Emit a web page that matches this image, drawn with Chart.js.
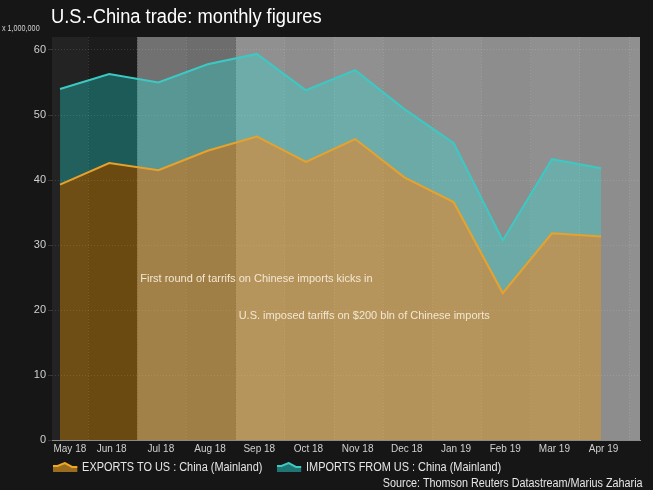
<!DOCTYPE html>
<html>
<head>
<meta charset="utf-8">
<script src="https://cdn.jsdelivr.net/npm/chart.js@4.4.0/dist/chart.umd.min.js"></script>
<style>
  html, body { margin: 0; padding: 0; background: #161616; }
  #wrap { position: relative; width: 653px; height: 490px; overflow: hidden; font-family: 'Liberation Sans', Arial, sans-serif; }
  #wrap canvas { position: absolute; left: 0; top: 0; }
  .title { position: absolute; left: 51px; top: 5px; color: #fff; font-size: 20px; white-space: nowrap; transform: scaleX(0.915); transform-origin: left center; }
  .unit { position: absolute; left: 2px; top: 23px; color: #d0d0d0; font-size: 9px; white-space: nowrap; transform: scaleX(0.8); transform-origin: left center; }
  .legend { position: absolute; left: 53px; top: 460px; color: #e6e6e6; font-size: 12px; display: flex; align-items: center; white-space: nowrap; transform: scaleX(0.91); transform-origin: left center; }
  .legend span { display: flex; align-items: center; margin-right: 16px; }
  .legend svg { margin-right: 5px; }
  .source { position: absolute; right: 10px; top: 476px; color: #e6e6e6; font-size: 12px; white-space: nowrap; transform: scaleX(0.9); transform-origin: right center; }
</style>
</head>
<body>
<div id="wrap">
  <canvas id="chart-trade" width="653" height="490"></canvas>
  <div class="title">U.S.-China trade: monthly figures</div>
  <div class="unit">x 1,000,000</div>
  <div class="legend">
    <span><svg width="27" height="10"><polygon points="0,10 0,4 5,4 13,1 21,5 27,5 27,10" fill="#9a6c1e"/><polyline points="0,4 5,4 13,1 21,5 27,5" fill="none" stroke="#f0a824" stroke-width="2"/></svg>EXPORTS TO US : China (Mainland)</span>
    <span><svg width="27" height="10"><polygon points="0,10 0,4 5,4 13,1 21,5 27,5 27,10" fill="#1f7573"/><polyline points="0,4 5,4 13,1 21,5 27,5" fill="none" stroke="#3cc9c4" stroke-width="2"/></svg>IMPORTS FROM US : China (Mainland)</span>
  </div>
  <div class="source">Source: Thomson Reuters Datastream/Marius Zaharia</div>
</div>
<script>
const months    = ['May 18','Jun 18','Jul 18','Aug 18','Sep 18','Oct 18','Nov 18','Dec 18','Jan 19','Feb 19','Mar 19','Apr 19'];
const exportsUS = [39.3, 42.6, 41.5, 44.5, 46.7, 42.8, 46.3, 40.4, 36.6, 22.6, 31.8, 31.3];
const importsUS = [14.7, 13.7, 13.5, 13.3, 12.7, 11.0, 10.6, 10.5, 9.1, 8.1, 11.4, 10.5];
const yTicks    = [0, 10, 20, 30, 40, 50, 60];

// shaded periods: start position (in month index units) and label
const bandStart  = [1.57, 3.57];
const bandColor  = ['#6d6d6d', '#8d8d8d'];
const bandText   = ['First round of tarrifs on Chinese imports kicks in', 'U.S. imposed tariffs on $200 bln of Chinese imports'];
const bandTextY  = [24.7, 19.1];

const X_MIN = -0.163, X_MAX = 11.79;
const gridX = months.map((m, i) => i + 0.57);

const bandsPlugin = {
  id: 'bands',
  beforeDraw(chart) {
    const { ctx, chartArea: a, scales: { x } } = chart;
    ctx.save();
    ctx.fillStyle = '#1c1c1c';
    ctx.fillRect(a.left, a.top, a.right - a.left, a.bottom - a.top);
    bandStart.forEach((s, i) => {
      const x0 = x.getPixelForValue(s);
      const x1 = i + 1 < bandStart.length ? x.getPixelForValue(bandStart[i + 1]) : a.right;
      ctx.fillStyle = bandColor[i];
      ctx.fillRect(x0, a.top, x1 - x0, a.bottom - a.top);
    });
    // faint alternating columns between grid lines
    const edges = [X_MIN, ...gridX.filter(g => g < X_MAX), X_MAX];
    ctx.fillStyle = 'rgba(255,255,255,0.03)';
    for (let i = 0; i < edges.length - 1; i += 2) {
      const x0 = x.getPixelForValue(edges[i]);
      const x1 = x.getPixelForValue(edges[i + 1]);
      ctx.fillRect(x0, a.top, x1 - x0, a.bottom - a.top);
    }
    ctx.restore();
  },
  afterDatasetsDraw(chart) {
    const { ctx, scales: { x, y } } = chart;
    ctx.save();
    ctx.font = '11px "Liberation Sans", Arial, sans-serif';
    ctx.fillStyle = '#f3e7d2';
    ctx.textBaseline = 'middle';
    bandText.forEach((t, i) => {
      ctx.fillText(t, x.getPixelForValue(bandStart[i]) + 3, y.getPixelForValue(bandTextY[i]));
    });
    ctx.restore();
  }
};

const tickFont = { family: "'Liberation Sans', Arial, sans-serif", size: 10 };

new Chart(document.getElementById('chart-trade'), {
  type: 'line',
  data: {
    datasets: [{
      label: 'EXPORTS TO US : China (Mainland)',
      data: exportsUS.map((v, i) => ({ x: i, y: v })),
      borderColor: '#e8a22c',
      backgroundColor: 'rgba(255,161,0,0.35)',
      borderWidth: 2,
      pointRadius: 0,
      tension: 0,
      fill: 'origin'
    }, {
      label: 'IMPORTS FROM US : China (Mainland)',
      data: importsUS.map((v, i) => ({ x: i, y: v })),
      borderColor: '#3cc9c4',
      backgroundColor: 'rgba(33,237,230,0.3)',
      borderWidth: 2,
      pointRadius: 0,
      tension: 0,
      fill: '-1'
    }]
  },
  options: {
    responsive: false,
    animation: false,
    layout: { padding: { left: 0, top: 37, right: 13, bottom: 28 } },
    plugins: { legend: { display: false }, tooltip: { enabled: false } },
    scales: {
      x: {
        type: 'linear', min: X_MIN, max: X_MAX,
        // first label is kept inside the plot, as in the source chart
        afterBuildTicks: s => { s.ticks = months.map((m, i) => ({ value: i === 0 ? 0.2 : i + 0.05 })); },
        afterFit: s => { s.height = 22; },
        grid: { display: false, drawTicks: false },
        border: { display: true, color: '#8a8a8a', width: 1 },
        ticks: { color: '#d0d0d0', font: tickFont, padding: 3, maxRotation: 0, autoSkip: false,
                 callback: (v, i) => months[i] ?? '' }
      },
      xg: {
        type: 'linear', position: 'bottom', min: X_MIN, max: X_MAX,
        afterBuildTicks: s => { s.ticks = gridX.map(v => ({ value: v })); },
        afterFit: s => { s.height = 0; },
        grid: { color: 'rgba(255,255,255,0.13)', drawTicks: false },
        border: { display: false, dash: [1, 2] },
        ticks: { display: false }
      },
      y: {
        stacked: true, min: 0, max: 62,
        afterBuildTicks: s => { s.ticks = yTicks.map(v => ({ value: v })); },
        afterFit: s => { s.width = 52; },
        grid: { color: 'rgba(255,255,255,0.13)', tickLength: 4 },
        border: { display: false, dash: [1, 2] },
        ticks: { color: '#d0d0d0', font: { family: "'Liberation Sans', Arial, sans-serif", size: 11 }, padding: 2 }
      }
    }
  },
  plugins: [bandsPlugin]
});
</script>
</body>
</html>
